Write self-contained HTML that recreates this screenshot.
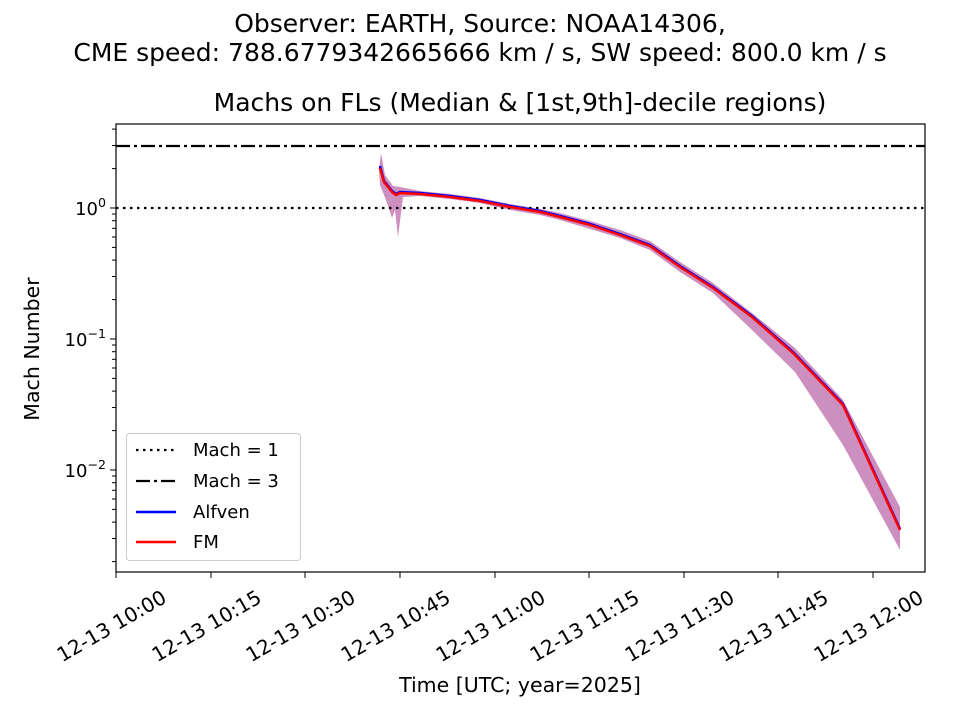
<!DOCTYPE html>
<html><head><style>body{margin:0;background:#fff}svg{display:block;font-family:"DejaVu Sans","Liberation Sans",sans-serif}</style></head>
<body>
<svg width="960" height="720" viewBox="0 0 960 720">
<text x="480" y="32" font-size="25" text-anchor="middle">Observer: EARTH, Source: NOAA14306,</text>
<text x="480" y="61" font-size="25" text-anchor="middle">CME speed: 788.6779342665666 km / s, SW speed: 800.0 km / s</text>
<text x="520" y="111" font-size="25" text-anchor="middle">Machs on FLs (Median &amp; [1st,9th]-decile regions)</text>
<polygon fill="#cc8fbf" points="381,153 385,175 393,186 400,187 420,191 450,194 480,198 510,204 540,209 560,213 590,221 620,230 650,241 680,262 713,283 752,313 795,348 843,400 900,507 900,550 843,445 795,372 752,330 713,293 680,272 650,250 620,238 590,229 560,220 540,215 510,210 480,203 450,199 420,196 403,197 398,237 395,210 392,218 386,200 380,185 379,170"/>
<line x1="116" y1="208" x2="925" y2="208" stroke="#000" stroke-width="2.2" stroke-dasharray="2.5,4.5"/>
<line x1="116" y1="146" x2="925" y2="146" stroke="#000" stroke-width="2.2" stroke-dasharray="14,4,3,4"/>
<polyline fill="none" stroke="#0000ff" stroke-width="2.5" points="380,166 384,181 392,191 396,194 400,192 420,193 450,196 480,200 510,206 540,211 560,216 590,224 620,234 650,245 680,266 713,287 752,316 793,352 843,404 900,529"/>
<polyline fill="none" stroke="#ff0000" stroke-width="2.5" points="380,168 384,182 392,192 396,195 400,193 420,194 450,197 480,201 510,207 540,212 560,217 590,225 620,235 650,246 680,267 713,288 752,317 793,353 843,405 900,530"/>
<rect x="116" y="124" width="809" height="448" fill="none" stroke="#000" stroke-width="1.2"/>
<g stroke="#000" stroke-width="1">
<line x1="116" y1="208" x2="110" y2="208"/><line x1="116" y1="339" x2="110" y2="339"/><line x1="116" y1="470" x2="110" y2="470"/>
<line x1="116" y1="168.6" x2="112" y2="168.6"/><line x1="116" y1="145.5" x2="112" y2="145.5"/><line x1="116" y1="129.1" x2="112" y2="129.1"/>
<line x1="116" y1="299.6" x2="112" y2="299.6"/><line x1="116" y1="276.5" x2="112" y2="276.5"/><line x1="116" y1="260.1" x2="112" y2="260.1"/><line x1="116" y1="247.4" x2="112" y2="247.4"/><line x1="116" y1="237.0" x2="112" y2="237.0"/><line x1="116" y1="228.3" x2="112" y2="228.3"/><line x1="116" y1="220.7" x2="112" y2="220.7"/><line x1="116" y1="214.0" x2="112" y2="214.0"/>
<line x1="116" y1="430.6" x2="112" y2="430.6"/><line x1="116" y1="407.5" x2="112" y2="407.5"/><line x1="116" y1="391.1" x2="112" y2="391.1"/><line x1="116" y1="378.4" x2="112" y2="378.4"/><line x1="116" y1="368.0" x2="112" y2="368.0"/><line x1="116" y1="359.3" x2="112" y2="359.3"/><line x1="116" y1="351.7" x2="112" y2="351.7"/><line x1="116" y1="345.0" x2="112" y2="345.0"/>
<line x1="116" y1="561.6" x2="112" y2="561.6"/><line x1="116" y1="538.5" x2="112" y2="538.5"/><line x1="116" y1="522.1" x2="112" y2="522.1"/><line x1="116" y1="509.4" x2="112" y2="509.4"/><line x1="116" y1="499.0" x2="112" y2="499.0"/><line x1="116" y1="490.3" x2="112" y2="490.3"/><line x1="116" y1="482.7" x2="112" y2="482.7"/><line x1="116" y1="476.0" x2="112" y2="476.0"/>
<line x1="116" y1="572" x2="116" y2="578"/><line x1="211" y1="572" x2="211" y2="578"/><line x1="305" y1="572" x2="305" y2="578"/><line x1="400" y1="572" x2="400" y2="578"/><line x1="495" y1="572" x2="495" y2="578"/><line x1="589" y1="572" x2="589" y2="578"/><line x1="684" y1="572" x2="684" y2="578"/><line x1="778" y1="572" x2="778" y2="578"/><line x1="873" y1="572" x2="873" y2="578"/>
</g>
<g font-size="18" text-anchor="end">
<text x="106" y="215">10<tspan dy="-8" font-size="12.6">0</tspan></text>
<text x="106" y="346">10<tspan dy="-8" font-size="12.6">−1</tspan></text>
<text x="106" y="477">10<tspan dy="-8" font-size="12.6">−2</tspan></text>
</g>
<text transform="translate(39,349) rotate(-90)" font-size="20.5" text-anchor="middle">Mach Number</text>
<g font-size="20" text-anchor="middle">
<text transform="translate(115,632) rotate(-30)">12-13 10:00</text>
<text transform="translate(210,632) rotate(-30)">12-13 10:15</text>
<text transform="translate(304,632) rotate(-30)">12-13 10:30</text>
<text transform="translate(399,632) rotate(-30)">12-13 10:45</text>
<text transform="translate(494,632) rotate(-30)">12-13 11:00</text>
<text transform="translate(588,632) rotate(-30)">12-13 11:15</text>
<text transform="translate(683,632) rotate(-30)">12-13 11:30</text>
<text transform="translate(777,632) rotate(-30)">12-13 11:45</text>
<text transform="translate(872,632) rotate(-30)">12-13 12:00</text>
</g>
<text x="520" y="692" font-size="20.5" text-anchor="middle">Time [UTC; year=2025]</text>
<rect x="126.5" y="433.5" width="174" height="127" rx="3" fill="#fff" fill-opacity="0.8" stroke="#ccc"/>
<line x1="136" y1="450" x2="176" y2="450" stroke="#000" stroke-width="2.2" stroke-dasharray="2.5,4.5"/>
<line x1="136" y1="481" x2="176" y2="481" stroke="#000" stroke-width="2.2" stroke-dasharray="14,4,3,4"/>
<line x1="136" y1="512" x2="176" y2="512" stroke="#0000ff" stroke-width="2.5"/>
<line x1="136" y1="542" x2="176" y2="542" stroke="#ff0000" stroke-width="2.5"/>
<g font-size="18"><text x="193" y="456">Mach = 1</text><text x="193" y="487">Mach = 3</text><text x="193" y="518">Alfven</text><text x="193" y="548">FM</text></g>
</svg>
</body></html>
